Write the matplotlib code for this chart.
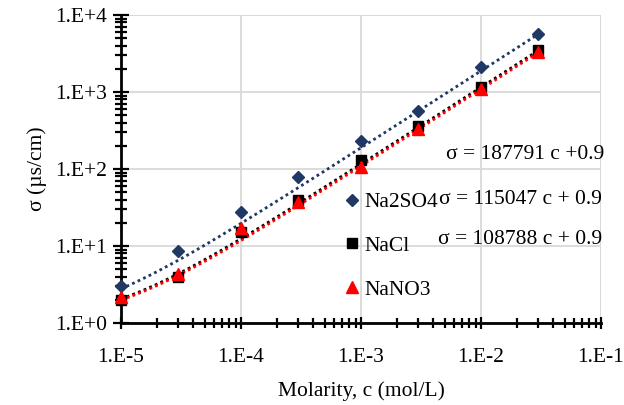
import numpy as np
import matplotlib
matplotlib.use("Agg")
import matplotlib.pyplot as plt
from matplotlib.ticker import LogLocator, FixedLocator, NullFormatter

plt.rcParams['font.family'] = ['Liberation Serif', 'DejaVu Serif']

# ---- data ----
molarity = [1e-5, 3e-5, 1e-4, 3e-4, 1e-3, 3e-3, 1e-2, 3e-2]
na2so4 = [3.0, 8.7, 27.5, 78, 230, 575, 2130, 5650]
nacl = [2.0, 4.0, 15.3, 40, 131, 360, 1170, 3530]
nano3 = [2.2, 4.3, 17.0, 37, 107, 335, 1100, 3330]
series_names = ["Na2SO4", "NaCl", "NaNO3"]
slopes = [187791, 115047, 108788]
intercept = 0.9
eq_labels = ["σ = 187791 c +0.9", "σ = 115047 c + 0.9", "σ = 108788 c + 0.9"]
x_ticks = [1e-5, 1e-4, 1e-3, 1e-2, 1e-1]
x_ticklabels = ["1.E-5", "1.E-4", "1.E-3", "1.E-2", "1.E-1"]
y_ticks = [1, 10, 100, 1000, 10000]
y_ticklabels = ["1.E+0", "1.E+1", "1.E+2", "1.E+3", "1.E+4"]

colors = ["#203864", "#000000", "#ff0000"]
markers = ["D", "s", "^"]
msizes = [6.5, 7.5, 8.5]
FS = 15.5

W, H = 624, 405
fig = plt.figure(figsize=(W / 100, H / 100), dpi=100)
L, R, T, B = 121, 601, 15, 323
ax = fig.add_axes([L / W, 1 - B / H, (R - L) / W, (B - T) / H])
ax.set_xscale("log")
ax.set_yscale("log")
ax.set_xlim(1e-5, 1e-1)
ax.set_ylim(1, 1e4)

# grid
ax.set_axisbelow(True)
ax.grid(True, which="major", color="#d9d9d9", linewidth=1.3)
for s in ["top", "right"]:
    ax.spines[s].set_visible(False)
for s in ["left", "bottom"]:
    ax.spines[s].set_linewidth(2)
    ax.spines[s].set_color("black")
ax.axhline(1e4, color="#d9d9d9", lw=1.3, zorder=0)
ax.axvline(1e-1, color="#d9d9d9", lw=1.3, zorder=0)

# trendlines
xs = np.logspace(np.log10(molarity[0]), np.log10(molarity[-1]), 200)
for k, c in zip(slopes, colors):
    ax.plot(xs, k * xs + intercept, linestyle=(0, (1, 1.2)), color=c, lw=2, zorder=2)

handles = []
for ys, c, m, ms, name in zip([na2so4, nacl, nano3], colors, markers, msizes, series_names):
    h, = ax.plot(molarity, ys, linestyle="none", marker=m, markersize=ms, color=c,
                 markeredgecolor=c, zorder=3, label=name, clip_on=False)
    handles.append(h)

ax.xaxis.set_major_locator(FixedLocator(x_ticks))
ax.set_xticklabels(x_ticklabels)
ax.yaxis.set_major_locator(FixedLocator(y_ticks))
ax.set_yticklabels(y_ticklabels)
ax.xaxis.set_minor_locator(LogLocator(base=10, subs=np.arange(2, 10), numticks=20))
ax.yaxis.set_minor_locator(LogLocator(base=10, subs=np.arange(2, 10), numticks=20))
ax.xaxis.set_minor_formatter(NullFormatter())
ax.yaxis.set_minor_formatter(NullFormatter())
ax.tick_params(which="both", direction="inout", width=1.6, labelsize=FS, colors="black")
ax.tick_params(axis="x", which="major", length=8, pad=14)
ax.tick_params(axis="x", which="minor", length=7)
ax.tick_params(axis="y", which="major", length=12, pad=4)
ax.tick_params(axis="y", which="minor", length=9)

ax.set_xlabel("Molarity, c (mol/L)", fontsize=FS, labelpad=10)
ax.set_ylabel("σ (µs/cm)", fontsize=FS, labelpad=6)

leg = ax.legend(handles=handles, loc="upper left", frameon=False, fontsize=FS,
                bbox_to_anchor=(346 / W, 1 - 192 / H), bbox_transform=fig.transFigure,
                handlelength=0.6, handletextpad=0.25, labelspacing=1.1, borderpad=0,
                borderaxespad=0)

eq_pos = [(604, 155), (602, 200), (602, 240)]
for (x, y), txt in zip(eq_pos, eq_labels):
    fig.text(x / W, 1 - y / H, txt, ha="right", va="center", fontsize=FS)

fig.savefig("out.png", dpi=100)
